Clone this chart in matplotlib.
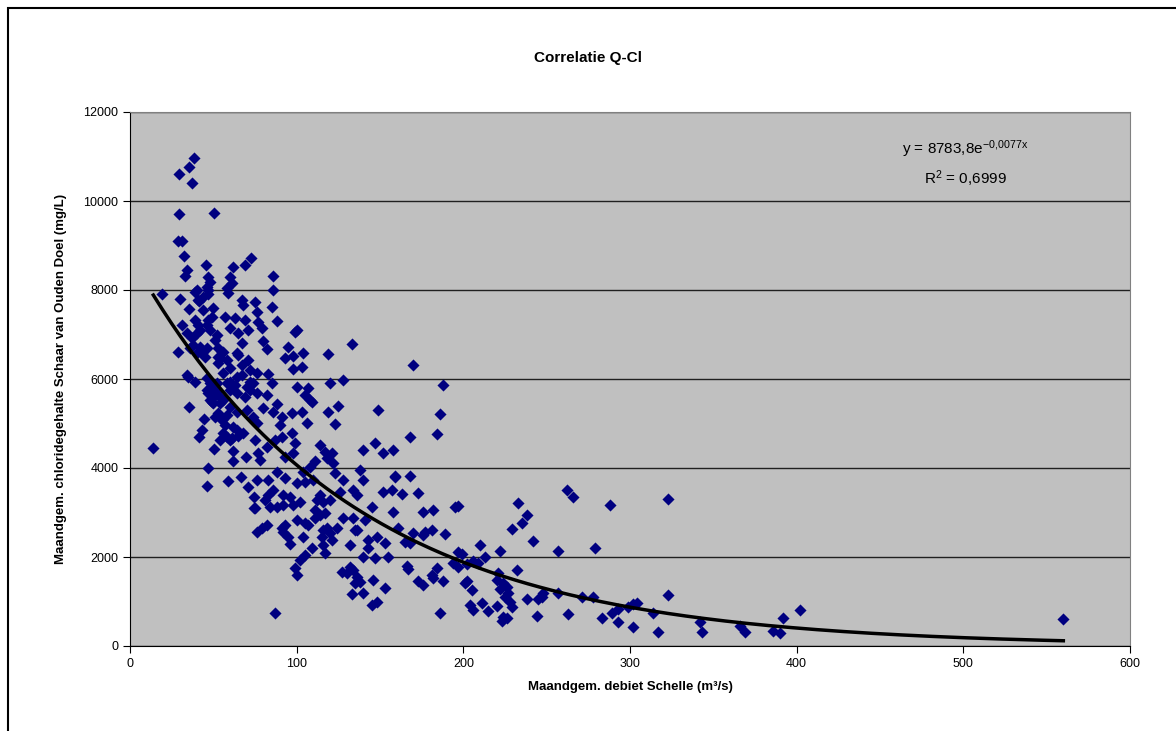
import numpy as np
import matplotlib
matplotlib.use('Agg')
import matplotlib.pyplot as plt
from matplotlib.patches import Rectangle

plt.rcParams['font.family'] = ['Liberation Sans', 'DejaVu Sans']
plt.rcParams['mathtext.fontset'] = 'custom'
plt.rcParams['mathtext.rm'] = 'Liberation Sans'
plt.rcParams['mathtext.it'] = 'Liberation Sans'

# points: monthly mean discharge Schelle (m3/s)
debiet = [
    38.6, 35.4, 29.4, 37.2, 29.4, 50.4, 31, 29, 32.4, 34, 33, 45.6, 72.6, 69, 61.8, 86, 86,
    47, 48, 46, 47, 40, 39, 41, 44, 60, 61, 58, 59, 19.4, 30, 47, 41.6, 35.4, 68, 75, 76,
    44, 50, 49, 47, 46, 48, 52, 51, 39, 41, 42, 40, 31, 34, 37, 38, 42, 36, 41, 29,
    57, 63, 67, 69, 77, 60, 65, 67, 71, 55, 54, 53, 58, 65, 64, 71, 67, 53, 56, 53, 45, 46, 43,
    85, 88, 79, 80, 82, 100, 99, 95, 93, 98, 104, 119, 133, 98, 103,
    34, 35, 39, 46, 48, 50, 52, 54, 56, 60, 64, 67, 72, 76, 60, 63, 70, 72, 76,
    83, 85, 74, 82, 88, 80, 86, 91, 90, 100, 107, 105, 108, 109, 120, 128, 119, 125, 149,
    123, 106, 103, 97,
    35.5, 44.4, 43, 41.6, 14, 50.4, 62, 69.6, 62, 47, 46, 59, 66.6, 70.8, 74.4, 74.4, 76,
    54, 58, 60, 56, 62, 64, 68, 51, 53, 55, 57, 48, 50, 56, 60, 64, 69, 72, 70, 74,
    46, 52, 58, 60, 64, 47, 51, 49, 54, 58, 61, 65, 76,
    147, 140, 152, 158, 114, 117, 121, 118, 122, 111, 108, 104, 110, 105, 100, 93, 88, 83, 76,
    97, 99, 91, 87, 82, 75, 77, 78, 93, 98, 123, 128, 138, 140, 134, 136, 126,
    152, 157, 159, 158, 145, 141, 128, 134, 136, 114, 112, 116, 120, 111, 114, 117, 111, 107,
    105, 100, 93, 96, 102, 98, 92, 88, 84, 81, 75, 86, 83, 92,
    79, 82, 91, 92, 95, 96, 104, 109, 105, 102, 99, 100,
    116, 118, 120, 115, 121, 116, 117, 124, 132, 135, 140, 143, 143, 148, 153, 147, 155,
    132, 134, 127, 130, 136, 138, 135, 146, 153, 133, 140, 145, 148, 87,
    170, 188, 186, 184, 168, 159, 168, 163, 173, 176, 182, 195, 197,
    161, 170, 177, 176, 181, 189, 165, 168, 166, 167, 173, 176, 181, 184, 182, 188, 186,
    197, 199, 194, 197, 202, 206, 209, 213, 210, 202, 201, 205, 204, 206, 211, 215, 220,
    222, 232, 221, 220, 224, 226, 222, 227, 225, 228, 229, 224, 226, 223,
    233, 238, 235, 229, 242, 257, 262, 266, 238, 245, 248, 247, 244, 257, 263, 271,
    288, 323, 279, 278, 283, 289, 293, 293, 299, 302, 302, 304, 314, 317, 323,
    342, 343, 366, 369, 386, 390, 392, 402, 560,
]

# chloride content Schaar van Ouden Doel (mg/L)
chloride = [
    10960, 10760, 10600, 10400, 9700, 9730, 9100, 9100, 8760, 8450, 8310, 8560, 8720, 8560, 8520, 8310, 8000,
    8290, 8180, 8070, 8000, 8000, 7960, 7780, 7840, 8290, 8160, 8040, 7930, 7910, 7790, 7900, 7750, 7570, 7660, 7730, 7500,
    7550, 7600, 7400, 7330, 7210, 7100, 6990, 6880, 7330, 7210, 7100, 7030, 7210, 7030, 6920, 6760, 6720, 6700, 6610, 6600,
    7400, 7370, 7780, 7330, 7280, 7150, 7030, 6810, 7100, 6610, 6470, 6360, 6430, 6540, 6580, 6430, 6310, 6700, 6600, 6500, 6500, 6700, 6580,
    7620, 7300, 7150, 6850, 6670, 7100, 7050, 6720, 6470, 6520, 6580, 6560, 6790, 6220, 6270,
    6090, 6050, 5930, 6020, 5910, 5800, 5710, 5600, 6130, 6250, 6050, 6090, 6200, 6130, 5930, 5870, 5820, 5930, 5690,
    6110, 5910, 5910, 5640, 5440, 5350, 5260, 5150, 4970, 5820, 5800, 5640, 5530, 5480, 5910, 5980, 5260, 5390, 5300,
    4990, 5010, 5260, 5240,
    5370, 5100, 4850, 4700, 4450, 4420, 4380, 4250, 4160, 4000, 3600, 3710, 3800, 3570, 3350, 3100, 2560,
    4630, 4700, 4630, 4790, 4920, 4850, 4790, 5150, 5240, 5080, 4970, 5530, 5460, 5530, 5370, 5260, 5600, 5750, 5300, 5150,
    5750, 5910, 5910, 5750, 5690, 5690, 5640, 5480, 5460, 5190, 4670, 4720, 5010,
    4560, 4400, 4330, 4400, 4520, 4360, 4330, 4220, 4110, 4160, 4020, 3910, 3730, 3690, 3660, 3780, 3910, 3730, 3730,
    4790, 4560, 4700, 4630, 4470, 4630, 4340, 4180, 4250, 4340, 3890, 3730, 3960, 3730, 3510, 3390, 3460,
    3460, 3510, 3800, 3010, 3120, 2830, 2880, 2880, 2610, 3390, 3280, 3240, 3280, 3060, 2940, 2990, 2880, 2720,
    2760, 2830, 2720, 3350, 3240, 3170, 3170, 3120, 3120, 3280, 3100, 3510, 3390, 3390,
    2650, 2720, 2650, 2560, 2450, 2290, 2450, 2200, 2040, 1930, 1750, 1600,
    2610, 2650, 2540, 2450, 2380, 2270, 2090, 2650, 2270, 2610, 2000, 2200, 2380, 2450, 2310, 1980, 2000,
    1780, 1710, 1660, 1640, 1550, 1440, 1420, 1480, 1300, 1170, 1190, 920, 990, 740,
    6310, 5870, 5210, 4760, 4700, 3820, 3820, 3420, 3440, 3010, 3060, 3120, 3150,
    2650, 2540, 2560, 2490, 2610, 2520, 2340, 2310, 1800, 1730, 1460, 1370, 1600, 1750, 1530, 1460, 740,
    2110, 2070, 1870, 1780, 1840, 1910, 1870, 2000, 2270, 1460, 1420, 1260, 920, 810, 970, 790, 900,
    2130, 1710, 1640, 1480, 1420, 1330, 1280, 1190, 1100, 990, 880, 650, 630, 560,
    3210, 2940, 2760, 2630, 2360, 2130, 3510, 3350, 1060, 1060, 1190, 1100, 670, 1190, 720, 1100,
    3170, 3300, 2200, 1100, 630, 740, 830, 540, 880, 430, 940, 970, 740, 310, 1150,
    540, 310, 450, 310, 340, 290, 630, 810, 600,
]

# exponential trendline as printed on the chart
a_fit = 8783.8
b_fit = -0.0077
trend_x = np.linspace(min(debiet), max(debiet), 300)
trend_y = a_fit * np.exp(b_fit * trend_x)

fig = plt.figure(figsize=(11.76, 7.31), dpi=100)
ax = fig.add_axes([130/1176, 1 - 646/731, 1000/1176, 534/731])
ax.set_facecolor('#C0C0C0')

ax.scatter(debiet, chloride, marker='D', s=38, color='#000080', linewidths=0, zorder=3)
ax.plot(trend_x, trend_y, color='black', lw=2.5, zorder=4)

ax.set_xlim(0, 600)
ax.set_ylim(0, 12000)
ax.set_xticks(range(0, 601, 100))
ax.set_yticks(range(0, 12001, 2000))
ax.yaxis.grid(True, color='#202020', lw=1)
ax.set_axisbelow(True)
ax.tick_params(direction='out', length=5, labelsize=9, color='black')
for s in ['top', 'right']:
    ax.spines[s].set_color('#808080')
for s in ['left', 'bottom']:
    ax.spines[s].set_color('black')

ax.set_xlabel('Maandgem. debiet Schelle (m³/s)', fontsize=9.5, fontweight='bold', labelpad=8)
ax.set_ylabel('Maandgem. chloridegehalte Schaar van Ouden Doel (mg/L)', fontsize=9.5, fontweight='bold', labelpad=12)
fig.text(0.5, 1 - 58/731, 'Correlatie Q-Cl', ha='center', va='center', fontsize=11, fontweight='bold')

ax.text(0.835, 0.93, r'y = 8783,8e$^{\mathrm{-0{,}0077x}}$', transform=ax.transAxes,
        ha='center', va='center', fontsize=11)
ax.text(0.835, 0.875, r'R$^{\mathrm{2}}$ = 0,6999', transform=ax.transAxes,
        ha='center', va='center', fontsize=11)

# outer chart frame
fig.patches.append(Rectangle((8/1176, -0.1), 1.2, 1.1 - 8/731, transform=fig.transFigure,
                             fill=False, edgecolor='black', lw=1.5))

fig.savefig('out.png', dpi=100)
